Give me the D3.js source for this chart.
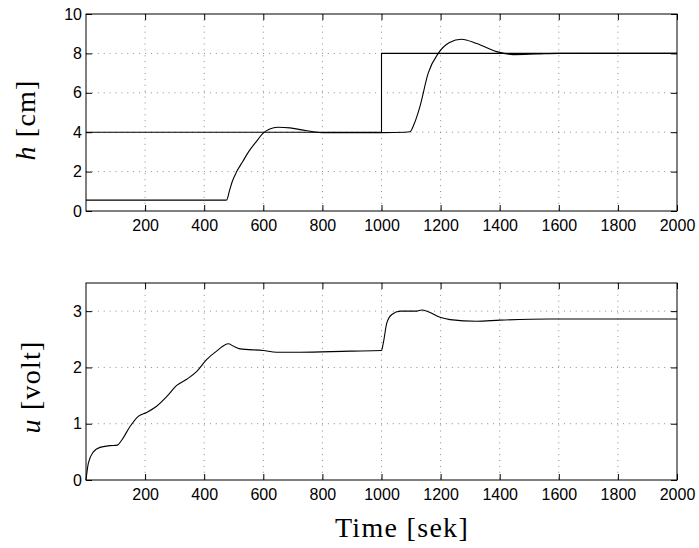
<!DOCTYPE html>
<html>
<head>
<meta charset="utf-8">
<script src="https://cdn.jsdelivr.net/npm/d3@7"></script>
<style>
  body { margin: 0; background: #fff; }
  .grid line { stroke: #8a8a8a; stroke-width: 1; stroke-dasharray: 1,4.9; }
  .label { font-family: "Liberation Serif", "Times New Roman", serif; font-size: 28px; fill: #000; }
</style>
</head>
<body>
<svg id="chart"></svg>
<script>
// reference step (setpoint), h [cm]
let refTime = [0, 1000, 1000, 2000];
let refH = [4, 4, 8, 8];

// measured level h [cm]
let hTime = [0, 200, 470, 476, 485, 495, 510, 530, 550, 575, 600, 620, 650, 690, 730, 770, 800, 900, 1000, 1080, 1096, 1110, 1130, 1158, 1192, 1230, 1271, 1322, 1390, 1446, 1526, 1600, 1800, 2000];
let hVal = [0.55, 0.55, 0.55, 0.56, 1.0, 1.5, 2.0, 2.5, 3.0, 3.5, 3.95, 4.15, 4.25, 4.22, 4.12, 4.02, 3.98, 3.98, 3.98, 4.0, 4.02, 4.4, 5.3, 7.0, 8.0, 8.55, 8.72, 8.5, 8.09, 7.94, 7.97, 8.0, 8.0, 8.0];

// control signal u [volt]
let uTime = [0, 8, 25, 47, 81, 106, 121, 149, 177, 205, 239, 273, 307, 341, 375, 408, 442, 482, 498, 521, 600, 645, 724, 893, 1000, 1006, 1018, 1035, 1063, 1119, 1136, 1158, 1198, 1232, 1322, 1401, 1570, 1796, 2000];
let uVal = [0, 0.30, 0.50, 0.58, 0.61, 0.62, 0.71, 0.95, 1.13, 1.20, 1.31, 1.48, 1.68, 1.79, 1.93, 2.14, 2.29, 2.42, 2.38, 2.33, 2.30, 2.27, 2.27, 2.29, 2.30, 2.43, 2.79, 2.94, 3.0, 3.0, 3.02, 2.99, 2.89, 2.85, 2.82, 2.84, 2.86, 2.86, 2.86];

let xTicks = [200, 400, 600, 800, 1000, 1200, 1400, 1600, 1800, 2000];
let hTicks = [0, 2, 4, 6, 8, 10];
let uTicks = [0, 1, 2, 3];

let width = 699;
let height = 548;
let left = 86, right = 677;

let svg = d3.select("#chart").attr("width", width).attr("height", height);

let x = d3.scaleLinear().domain([0, 2000]).range([left, right]);
let fmt = d3.format("d");

function drawPanel(top, bottom, yDomain, yTicks, series, ylabel) {
  let y = d3.scaleLinear().domain(yDomain).range([bottom, top]);
  let g = svg.append("g");

  // dotted grid
  let grid = g.append("g").attr("class", "grid");
  grid.selectAll("line.v").data(xTicks.filter(d => d < 2000)).enter().append("line")
    .attr("x1", d => x(d)).attr("x2", d => x(d)).attr("y1", top).attr("y2", bottom);
  grid.selectAll("line.h").data(yTicks.filter(d => d > yDomain[0] && d < yDomain[1])).enter().append("line")
    .attr("x1", left).attr("x2", right).attr("y1", d => y(d)).attr("y2", d => y(d));

  // axes with inward ticks
  let tk = 6;
  g.append("g").attr("transform", translate(0, bottom))
    .call(d3.axisBottom(x).tickValues(xTicks).tickFormat(fmt).tickSizeInner(-tk).tickSizeOuter(0).tickPadding(9))
    .call(a => a.select(".domain").remove());
  g.append("g").attr("transform", translate(0, top))
    .call(d3.axisTop(x).tickValues(xTicks).tickSizeInner(-tk).tickSizeOuter(0).tickFormat(""))
    .call(a => a.select(".domain").remove());
  g.append("g").attr("transform", translate(left, 0))
    .call(d3.axisLeft(y).tickValues(yTicks).tickFormat(fmt).tickSizeInner(-tk).tickSizeOuter(0).tickPadding(4))
    .call(a => a.select(".domain").remove());
  g.append("g").attr("transform", translate(right, 0))
    .call(d3.axisRight(y).tickValues(yTicks).tickSizeInner(-tk).tickSizeOuter(0).tickFormat(""))
    .call(a => a.select(".domain").remove());
  g.selectAll(".tick line").attr("stroke", "#000");
  g.selectAll(".tick text")
    .style("font-family", "'Liberation Sans', Arial, sans-serif")
    .style("font-size", "16px")
    .attr("fill", "#000");

  // frame
  g.append("rect").attr("x", left).attr("y", top).attr("width", right - left).attr("height", bottom - top)
    .attr("fill", "none").attr("stroke", "#000").attr("stroke-width", 1);

  // data lines
  series.forEach(function(s) {
    let line = d3.line().curve(s.curve).x(d => x(d[0])).y(d => y(d[1]));
    g.append("path").datum(d3.zip(s.t, s.v)).attr("d", line)
      .attr("fill", "none").attr("stroke", "#000").attr("stroke-width", 1.1);
  });

  // y label
  let lab = g.append("text").attr("class", "label")
    .attr("transform", translate(ylabel.bx, ylabel.cy) + " rotate(-90)")
    .attr("text-anchor", "middle").attr("letter-spacing", 1.2);
  lab.append("tspan").attr("font-style", "italic").text(ylabel.sym);
  lab.append("tspan").text(" [" + ylabel.unit + "]");
}

drawPanel(14, 211, [0, 10], hTicks, [
  {t: refTime, v: refH, curve: d3.curveLinear},
  {t: hTime, v: hVal, curve: d3.curveMonotoneX}
], {sym: "h", unit: "cm", cy: 120, bx: 35});

drawPanel(283, 480, [0, 3.5], uTicks, [
  {t: uTime, v: uVal, curve: d3.curveMonotoneX}
], {sym: "u", unit: "volt", cy: 387, bx: 40});

svg.append("text").attr("class", "label")
  .attr("x", 402).attr("y", 537)
  .attr("text-anchor", "middle").attr("letter-spacing", 1.3)
  .text("Time [sek]");

function translate(x, y) {
  return 'translate(' + String(x) + ',' + String(y) + ')';
}
</script>
</body>
</html>
